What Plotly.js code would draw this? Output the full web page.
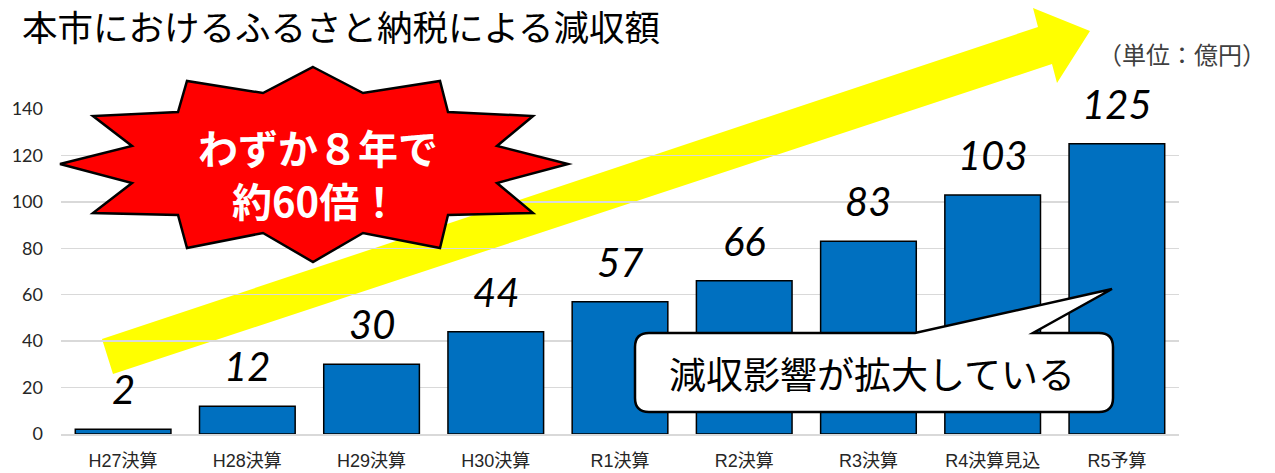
<!DOCTYPE html>
<html>
<head>
<meta charset="utf-8">
<script src="https://cdn.plot.ly/plotly-3.0.1.min.js"></script>
<style>html,body{margin:0;padding:0;background:#fff;}#chart{width:1275px;height:473px;}</style>
</head>
<body>
<div id="chart"></div>
<script>
// ---- data ----
const categories = ["H27決算","H28決算","H29決算","H30決算","R1決算","R2決算","R3決算","R4決算見込","R5予算"];
const values = [2, 12, 30, 44, 57, 66, 83, 103, 125];
const yTicks = [0, 20, 40, 60, 80, 100, 120, 140];
const titleText = "本市におけるふるさと納税による減収額";
const unitText = "（単位：億円）";
const burstLine1 = "わずか８年で";
const burstLine2 = "約60倍！";
const bubbleText = "減収影響が拡大している";

// ---- layout geometry ----
const W = 1275, H = 473;
const M = {l: 61, r: 96, t: 109, b: 39};
const PW = W - M.l - M.r, PH = H - M.t - M.b;
const px = x => (x - M.l) / PW;
const py = y => (H - M.b - y) / PH;
function poly(pts) {
  return pts.map((p, i) => (i ? 'L' : 'M') + px(p[0]).toFixed(5) + ',' + py(p[1]).toFixed(5)).join(' ') + ' Z';
}

const arrowPts = [[102,339],[1038,27],[1033,8],[1090,31],[1057,83],[1052,64],[113,374]];
const burstPts = [[313,67],[363,93],[440,81],[448,112],[533,116],[497,146],[568,164],[497,183],[533,213],[448,215],[440,248],[363,233],[313,262],[263,233],[187,248],[178,215],[93,213],[132,183],[60,164],[132,146],[93,116],[178,112],[187,81],[263,93]];

function bubblePath() {
  const L = 635, T = 333, R = 1113, B = 412, r = 14;
  const P = (x, y) => px(x).toFixed(5) + ',' + py(y).toFixed(5);
  return 'M ' + P(L + r, T) + ' L ' + P(915, T) + ' L ' + P(1112, 289) + ' L ' + P(1033, T) +
    ' L ' + P(R - r, T) + ' Q ' + P(R, T) + ' ' + P(R, T + r) +
    ' L ' + P(R, B - r) + ' Q ' + P(R, B) + ' ' + P(R - r, B) +
    ' L ' + P(L + r, B) + ' Q ' + P(L, B) + ' ' + P(L, B - r) +
    ' L ' + P(L, T + r) + ' Q ' + P(L, T) + ' ' + P(L + r, T) + ' Z';
}

const trace = {
  type: 'bar',
  x: categories,
  y: values,
  marker: {color: '#0070C0', line: {color: '#000000', width: 1.5}},
  hoverinfo: 'skip'
};

const valueAnns = categories.map((c, i) => ({
  x: c, y: values[i], xref: 'x', yref: 'y',
  text: String(values[i]), showarrow: false,
  yanchor: 'middle', yshift: 40,
  font: {family: 'Lato, "Liberation Sans", sans-serif', size: 40, color: '#000', style: 'italic'}
}));

const cjk = '"Noto Sans CJK JP", sans-serif';

const layout = {
  width: W, height: H,
  margin: M,
  paper_bgcolor: '#ffffff', plot_bgcolor: '#ffffff',
  showlegend: false,
  bargap: 0.23,
  title: {
    text: titleText, x: 22 / W, xanchor: 'left', xref: 'container',
    y: 1 - 29 / H, yanchor: 'middle', yref: 'container',
    font: {family: cjk, size: 35.5, color: '#000'}
  },
  xaxis: {
    type: 'category', categoryarray: categories,
    showgrid: false, zeroline: false, showline: true, linecolor: '#d9d9d9', linewidth: 1.5,
    ticks: '', ticklabelstandoff: 10,
    tickfont: {family: '"Liberation Sans", "Noto Sans CJK JP", sans-serif', size: 18, color: '#262626'}
  },
  yaxis: {
    range: [0, 140], tickvals: yTicks, ticktext: yTicks.map(String),
    showgrid: true, gridcolor: '#d9d9d9', gridwidth: 1.5,
    zeroline: false, showline: false, ticks: '', ticklabelstandoff: 17,
    tickfont: {family: 'Lato, "Liberation Sans", sans-serif', size: 18, color: '#262626'}
  },
  shapes: [
    {type: 'path', xref: 'paper', yref: 'paper', layer: 'below', path: poly(arrowPts),
     fillcolor: '#FFFF00', line: {width: 0}},
    {type: 'path', xref: 'paper', yref: 'paper', layer: 'above', path: poly(burstPts),
     fillcolor: '#FF0000', line: {color: '#000000', width: 2.5}},
    {type: 'path', xref: 'paper', yref: 'paper', layer: 'above', path: bubblePath(),
     fillcolor: '#FFFFFF', line: {color: '#000000', width: 2.5}}
  ],
  annotations: valueAnns.concat([
    {xref: 'paper', yref: 'paper', x: px(1096), y: py(53), xanchor: 'left', yanchor: 'middle',
     text: unitText, showarrow: false,
     font: {family: cjk, size: 24, color: '#404040'}},
    {xref: 'paper', yref: 'paper', x: px(318), y: py(147), xanchor: 'center', yanchor: 'middle',
     text: burstLine1, showarrow: false,
     font: {family: cjk, size: 40, color: '#FFFFFF', weight: 'bold'}},
    {xref: 'paper', yref: 'paper', x: px(315), y: py(200), xanchor: 'center', yanchor: 'middle',
     text: burstLine2, showarrow: false,
     font: {family: cjk, size: 40, color: '#FFFFFF', weight: 'bold'}},
    {xref: 'paper', yref: 'paper', x: px(872), y: py(373), xanchor: 'center', yanchor: 'middle',
     text: bubbleText, showarrow: false,
     font: {family: cjk, size: 37, color: '#000'}}
  ])
};

Plotly.newPlot('chart', [trace], layout, {staticPlot: true, displayModeBar: false});
</script>
</body>
</html>
